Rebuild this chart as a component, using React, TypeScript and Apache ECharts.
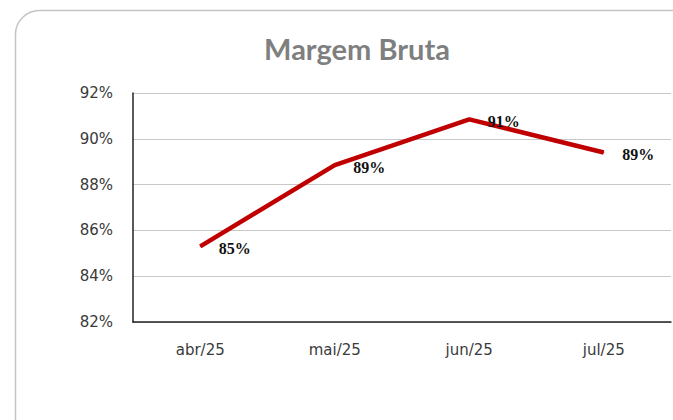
import { useEffect, useRef } from "react";
import * as echarts from "echarts";

const months = ["abr/25", "mai/25", "jun/25", "jul/25"];
const margemBruta = [85.3, 88.85, 90.85, 89.4];
const yTicks = { min: 82, max: 92, step: 2 };

const App: React.FC = () => {
  const chartRef = useRef<HTMLDivElement>(null);

  useEffect(() => {
    if (!chartRef.current) return;
    const chart = echarts.init(chartRef.current, undefined, { renderer: "svg" });

    chart.setOption({
      animation: false,
      backgroundColor: "#ffffff",
      graphic: [
        {
          type: "rect",
          shape: { x: 15.5, y: 10.5, width: 720, height: 460, r: 24 },
          style: { fill: "none", stroke: "#c4c4c4", lineWidth: 1.5 },
          silent: true,
        },
        {
          type: "text",
          x: 357,
          y: 48,
          style: {
            text: "Margem Bruta",
            fill: "#7f7f7f",
            font: "bold 29px Lato",
            textAlign: "center",
            textVerticalAlign: "middle",
          },
        },
      ],
      grid: { left: 133, right: 2, top: 93, bottom: 98 },
      xAxis: {
        type: "category",
        data: months,
        boundaryGap: true,
        axisLine: { lineStyle: { color: "#222", width: 1.5 } },
        axisTick: { show: false },
        axisLabel: {
          color: "#3a3a3a",
          fontFamily: "DejaVu Sans",
          fontSize: 15,
          margin: 20,
        },
      },
      yAxis: {
        type: "value",
        min: yTicks.min,
        max: yTicks.max,
        interval: yTicks.step,
        axisLine: { show: true, lineStyle: { color: "#222", width: 1.5 } },
        axisTick: { show: false },
        splitLine: { lineStyle: { color: "#c8c8c8", width: 1 } },
        axisLabel: {
          formatter: "{value}%",
          color: "#3a3a3a",
          fontFamily: "DejaVu Sans",
          fontSize: 15,
          margin: 20,
        },
      },
      series: [
        {
          type: "line",
          data: margemBruta,
          symbol: "circle",
          symbolSize: 1,
          showSymbol: true,
          itemStyle: { color: "#c00000" },
          lineStyle: { color: "#c00000", width: 4.5 },
          label: {
            show: true,
            position: "right",
            distance: 18,
            offset: [0, 2],
            formatter: (p: any) => `${Math.round(p.value)}%`,
            color: "#111",
            fontFamily: "Liberation Serif",
            fontWeight: "bold",
            fontSize: 16,
          },
        },
      ],
    });

    return () => {
      chart.dispose();
    };
  }, []);

  return (
    <div
      ref={chartRef}
      style={{ position: "fixed", left: 0, top: 0, width: "673px", height: "420px" }}
    />
  );
};

export default App;
